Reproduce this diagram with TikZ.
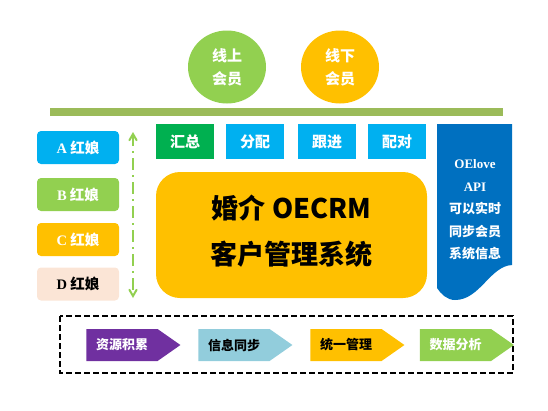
\documentclass[tikz,border=0pt]{standalone}
\usepackage{fontspec}
\usetikzlibrary{positioning, shapes, shapes.symbols, arrows}
\newfontfamily\cjk{Noto Sans CJK SC}
\newfontfamily\lat{Liberation Serif}
\definecolor{leaf}{HTML}{92D050}
\definecolor{sun}{HTML}{FFC000}
\definecolor{sky}{HTML}{00B0F0}
\definecolor{grass}{HTML}{00B050}
\definecolor{apiblue}{HTML}{0070C0}
\definecolor{peach}{HTML}{FBE5D6}
\definecolor{plum}{HTML}{7030A0}
\definecolor{ice}{HTML}{92CDDC}
\definecolor{olive}{HTML}{9BBB59}

\begin{document}
\begin{tikzpicture}[x=1pt,y=-1pt]
\tikzstyle{every node}=[font=\cjk\bfseries, inner sep=0pt, align=center];
\tikzstyle{ball}=[shape=ellipse, minimum width=78pt, minimum height=73pt, text=white, font=\cjk\bfseries\fontsize{15}{23}\selectfont];
\tikzstyle{tab}=[shape=rectangle, minimum width=58pt, minimum height=35pt, fill=sky, text=white, font=\cjk\bfseries\fontsize{15}{17}\selectfont];
\tikzstyle{maid}=[shape=rectangle, rounded corners=4pt, minimum width=82pt, minimum height=33pt, text=white, font=\cjk\bfseries\fontsize{14.5}{16}\selectfont];
\tikzstyle{flag}=[shape=signal, signal to=east, signal pointer angle=70, minimum width=94pt, minimum height=32pt, inner sep=0pt, font=\cjk\bfseries\fontsize{13}{15}\selectfont];
\useasboundingbox (0,0) rectangle (548,410);

% members
\path (227,67) node[ball, fill=leaf] (online) {线上\\会员};
\path (340,67) node[ball, fill=sun] (offline) {线下\\会员};
\fill[olive] (50,108) rectangle (503,116);

% top row
\path (185,141.5) node[tab, fill=grass] (sum) {汇总};
\path (255,141.5) node[tab] (share) {分配};
\path (327,141.5) node[tab] (follow) {跟进};
\path (397,141.5) node[tab] (match) {配对};

% matchmakers
\path (78,147.5) node[maid, fill=sky] (ma) {{\lat\bfseries A} 红娘};
\path (78,194.5) node[maid, fill=leaf] (mb) {{\lat\bfseries B} 红娘};
\path (78,239.5) node[maid, fill=sun] (mc) {{\lat\bfseries C} 红娘};
\path (78,284) node[maid, fill=peach, text=black] (md) {{\lat\bfseries D} 红娘};
\coordinate (atop) at (133,132);
\coordinate (abot) at (133,298);
\draw[<->, >=angle 60, leaf, line width=2pt, dash pattern=on 12pt off 5pt on 2pt off 5pt] (atop) -- (abot);

% core system
\path (291.5,235) node[shape=rectangle, rounded corners=24pt, fill=sun, minimum width=271pt, minimum height=126pt] (crm) {};
\path (291.5,231) node[font=\cjk\bfseries\fontsize{27}{46}\selectfont] (crmtext) {婚介 OECRM\\客户管理系统};

% api
\fill[apiblue] (437,124) -- (512,124) -- (512,265)
  .. controls (490,266) and (480,300) .. (455,300)
  .. controls (447,300) and (441,294) .. (437,288) -- cycle;
\path (475,210) node[text=white, font=\cjk\bfseries\fontsize{13}{22.5}\selectfont] (api) {{\lat\bfseries OElove}\\{\lat\bfseries API}\\可以实时\\同步会员\\系统信息};

% steps
\draw[dash pattern=on 6pt off 3pt, line width=1.2pt] (60,316) rectangle (513,373);
\path (122,345) node[flag, fill=plum, text=white] (s1) {资源积累};
\path (234,345) node[flag, fill=ice] (s2) {信息同步};
\path (346,345) node[flag, fill=sun] (s3) {统一管理};
\path (455.5,345) node[flag, fill=leaf, text=white] (s4) {数据分析};
\end{tikzpicture}
\end{document}
